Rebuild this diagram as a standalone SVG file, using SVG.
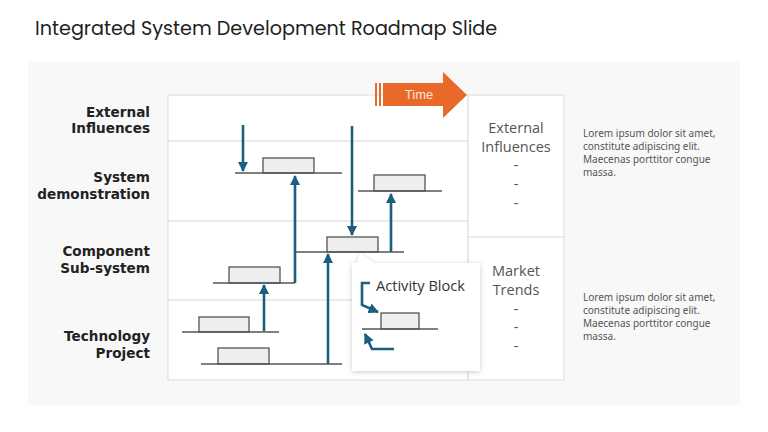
<svg xmlns="http://www.w3.org/2000/svg" width="768" height="432" viewBox="0 0 768 432">
<defs>
<style>
.lbl{font-family:"DejaVu Sans","Liberation Sans",sans-serif;font-weight:bold;font-size:13.6px;fill:#222;text-anchor:end}
.col{font-family:"Open Sans","Liberation Sans",sans-serif;font-size:14.5px;fill:#555;text-anchor:middle}
.para{font-family:"Noto Sans","Liberation Sans",sans-serif;font-size:10px;fill:#555}
.blk{fill:#eeeeee;stroke:#555;stroke-width:1.3}
.base{stroke:#555;stroke-width:1.3;fill:none}
.grid{stroke:#e3e3e3;stroke-width:1.3;fill:none}
.arr{stroke:#1b5e80;stroke-width:2.6;fill:none}
</style>
<marker id="ah" viewBox="0 0 10 10" refX="9" refY="5" markerWidth="4" markerHeight="4" orient="auto" markerUnits="strokeWidth">
<path d="M0,0 L10,5 L0,10 Z" fill="#1b5e80"/>
</marker>
<filter id="sh" x="-20%" y="-20%" width="140%" height="140%">
<feDropShadow dx="0" dy="1" stdDeviation="2.5" flood-color="#000" flood-opacity="0.2"/>
</filter>
</defs>
<rect width="768" height="432" fill="#ffffff"/>
<text x="35" y="35" font-family="Poppins,'Open Sans','Liberation Sans',sans-serif" font-size="19.2" fill="#222">Integrated System Development Roadmap Slide</text>
<rect x="28" y="62" width="712" height="343" fill="#f8f8f8"/>

<g id="main-grid">
<rect x="168" y="95" width="300" height="285" fill="#fff" stroke="#e3e3e3" stroke-width="1.3"/>
<line class="grid" x1="168" y1="141" x2="468" y2="141"/>
<line class="grid" x1="168" y1="221" x2="468" y2="221"/>
<line class="grid" x1="168" y1="300" x2="468" y2="300"/>
</g>
<g id="right-column">
<rect x="468" y="95" width="96" height="285" fill="#fff" stroke="#e3e3e3" stroke-width="1.3"/>
<line class="grid" x1="468" y1="237" x2="564" y2="237"/>
<text class="col" x="516" y="133">External</text>
<text class="col" x="516" y="152">Influences</text>
<text class="col" x="516" y="170">-</text>
<text class="col" x="516" y="189">-</text>
<text class="col" x="516" y="208">-</text>
<text class="col" x="516" y="276">Market</text>
<text class="col" x="516" y="295">Trends</text>
<text class="col" x="516" y="314">-</text>
<text class="col" x="516" y="332">-</text>
<text class="col" x="516" y="351">-</text>
</g>

<g id="row-labels">
<text class="lbl" x="150" y="117">External</text>
<text class="lbl" x="150" y="133">Influences</text>
<text class="lbl" x="150" y="182">System</text>
<text class="lbl" x="150" y="199">demonstration</text>
<text class="lbl" x="150" y="256">Component</text>
<text class="lbl" x="150" y="273">Sub-system</text>
<text class="lbl" x="150" y="341">Technology</text>
<text class="lbl" x="150" y="358">Project</text>
</g>

<g id="time-arrow">
<rect x="375" y="83" width="2" height="23" fill="#e8692a"/>
<rect x="379" y="83" width="2" height="23" fill="#e8692a"/>
<path d="M383,83 H443 V72 L467,95 L443,118 V106 H383 Z" fill="#e8692a"/>
<text x="419" y="99" font-family="'Liberation Sans',Arial,sans-serif" font-size="13" fill="#fde3d5" text-anchor="middle">Time</text>
</g>

<g id="blocks">
<g id="sd1"><rect class="blk" x="263" y="158" width="51" height="15"/><line class="base" x1="235" y1="173" x2="342" y2="173"/></g>
<g id="sd2"><rect class="blk" x="374" y="175" width="51" height="16"/><line class="base" x1="358" y1="191" x2="442" y2="191"/></g>
<g id="cs1"><rect class="blk" x="327" y="237" width="51" height="15"/><line class="base" x1="296" y1="252" x2="404" y2="252"/></g>
<g id="cs2"><rect class="blk" x="229" y="267" width="51" height="16"/><line class="base" x1="213" y1="283" x2="295" y2="283"/></g>
<g id="tp1"><rect class="blk" x="199" y="317" width="50" height="15"/><line class="base" x1="182" y1="332" x2="279" y2="332"/></g>
<g id="tp2"><rect class="blk" x="218" y="348" width="51" height="16"/><line class="base" x1="201" y1="364" x2="342" y2="364"/></g>
</g>

<g id="connectors">
<line class="arr" x1="243" y1="125" x2="243" y2="171" marker-end="url(#ah)"/>
<line class="arr" x1="352" y1="126" x2="352" y2="235" marker-end="url(#ah)"/>
<line class="arr" x1="295" y1="283" x2="295" y2="176" marker-end="url(#ah)"/>
<line class="arr" x1="391" y1="252" x2="391" y2="194" marker-end="url(#ah)"/>
<line class="arr" x1="264" y1="331" x2="264" y2="285" marker-end="url(#ah)"/>
<line class="arr" x1="328" y1="364" x2="328" y2="254" marker-end="url(#ah)"/>
</g>

<g id="activity-callout">
<g filter="url(#sh)">
<path d="M352,263 H357 L360,253 L373,263 H480 V371 H352 Z" fill="#fff"/>
</g>
<text x="376" y="291" font-family="'Open Sans','Liberation Sans',sans-serif" font-size="14.6" fill="#333">Activity Block</text>
<path class="arr" d="M370,283 H362 V305 L378,312" marker-end="url(#ah)"/>
<rect class="blk" x="381" y="313" width="38" height="16"/>
<line class="base" x1="362" y1="329" x2="438" y2="329"/>
<path class="arr" d="M394,349 H372 L365,334" marker-end="url(#ah)"/>
</g>

<g id="notes">
<text class="para" x="583" y="137">Lorem ipsum dolor sit amet,</text>
<text class="para" x="583" y="150">constitute adipiscing elit.</text>
<text class="para" x="583" y="163">Maecenas porttitor congue</text>
<text class="para" x="583" y="176">massa.</text>
<text class="para" x="583" y="301">Lorem ipsum dolor sit amet,</text>
<text class="para" x="583" y="314">constitute adipiscing elit.</text>
<text class="para" x="583" y="327">Maecenas porttitor congue</text>
<text class="para" x="583" y="340">massa.</text>
</g>
</svg>
